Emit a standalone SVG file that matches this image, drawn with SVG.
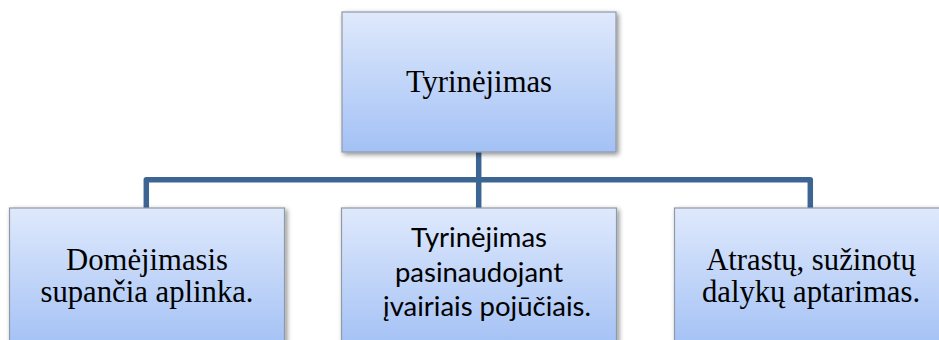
<svg xmlns="http://www.w3.org/2000/svg" width="939" height="340" viewBox="0 0 939 340">
<defs>
<linearGradient id="g" x1="0" y1="0" x2="0" y2="1">
<stop offset="0" stop-color="#dfe9fc"/>
<stop offset="1" stop-color="#a3c1f5"/>
</linearGradient>
<filter id="sh" x="-10%" y="-10%" width="125%" height="125%">
<feGaussianBlur in="SourceAlpha" stdDeviation="2.5"/>
<feOffset dx="1.5" dy="2" result="b"/>
<feComponentTransfer><feFuncA type="linear" slope="0.45"/></feComponentTransfer>
<feMerge><feMergeNode/><feMergeNode in="SourceGraphic"/></feMerge>
</filter>
</defs>
<style>
.box{fill:url(#g);stroke:#8f9aa6;stroke-width:1.2;filter:url(#sh)}
.conn{fill:none;stroke:#3d6594;stroke-width:5.5;stroke-linejoin:round}
.tnr{font-family:"Liberation Serif","Times New Roman",serif;font-size:30.7px;fill:#000;text-anchor:middle}
.cal{font-family:Lato,"Liberation Sans",sans-serif;font-size:27.5px;fill:#000;text-anchor:middle}
</style>
<rect width="939" height="340" fill="#fff"/>
<g id="connectors">
<path class="conn" d="M478.7 152 V179.7"/>
<path class="conn" d="M146.3 208 V179.7 H810.3 V208"/>
<path class="conn" d="M478.7 179.7 V208"/>
</g>
<g id="root">
<rect class="box" x="342" y="12" width="274" height="140"/>
<text class="tnr" x="479" y="92">Tyrinėjimas</text>
</g>
<g id="child1">
<rect class="box" x="9.5" y="208" width="275" height="140"/>
<text class="tnr" x="147" y="270">Domėjimasis</text>
<text class="tnr" x="147" y="302">supančia aplinka.</text>
</g>
<g id="child2">
<rect class="box" x="341.5" y="208" width="275" height="140"/>
<text class="cal" x="479" y="247">Tyrinėjimas</text>
<text class="cal" x="479" y="282">pasinaudojant</text>
<text class="cal" x="487" y="316">įvairiais pojūčiais.</text>
</g>
<g id="child3">
<rect class="box" x="674.5" y="208" width="275" height="140"/>
<text class="tnr" x="811" y="270">Atrastų, sužinotų</text>
<text class="tnr" x="811" y="302">dalykų aptarimas.</text>
</g>
</svg>
